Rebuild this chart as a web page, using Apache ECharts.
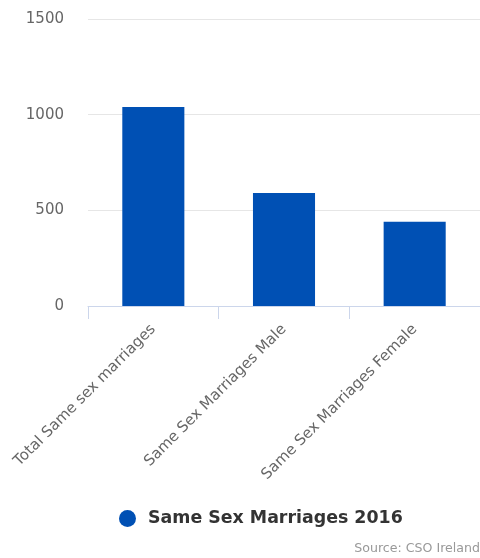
<!DOCTYPE html>
<html>
<head>
<meta charset="utf-8">
<script src="https://cdn.jsdelivr.net/npm/echarts@6/dist/echarts.min.js"></script>
<style>
html,body{margin:0;padding:0;background:#fff;}
#chart{width:480px;height:558px;}
</style>
</head>
<body>
<div id="chart"></div>
<script>
const categories = ['Total Same sex marriages', 'Same Sex Marriages Male', 'Same Sex Marriages Female'];
const seriesName = 'Same Sex Marriages 2016';
const values = [1040, 590, 440];
const yTicks = { min: 0, max: 1500, interval: 500 };
const sourceText = 'Source: CSO Ireland';

const font = 'DejaVu Sans';
const chart = echarts.init(document.getElementById('chart'));
chart.setOption({
  animation: false,
  title: {
    text: sourceText,
    right: 0,
    bottom: 3,
    padding: 0,
    textStyle: { fontFamily: font, fontSize: 12.6, fontWeight: 'normal', color: '#999' }
  },
  legend: {
    data: [seriesName],
    left: 119,
    top: 510,
    padding: 0,
    icon: 'circle',
    itemWidth: 17,
    itemHeight: 17,
    textStyle: { fontFamily: font, fontSize: 17.4, fontWeight: 'bold', color: '#333', padding: [0, 0, 0, 7] }
  },
  grid: { left: 88, right: 0, top: 19, bottom: 252, containLabel: false },
  xAxis: {
    type: 'category',
    data: categories,
    axisLine: { lineStyle: { color: '#ccd6eb' } },
    axisTick: { show: true, length: 13, lineStyle: { color: '#ccd6eb' } },
    axisLabel: { rotate: 45, margin: 21, fontFamily: font, fontSize: 15, color: '#666', interval: 0 }
  },
  yAxis: {
    type: 'value',
    min: yTicks.min,
    max: yTicks.max,
    interval: yTicks.interval,
    axisLine: { show: false },
    axisTick: { show: false },
    splitLine: { lineStyle: { color: '#e6e6e6' } },
    axisLabel: { margin: 24, fontFamily: font, fontSize: 15, color: '#666', formatter: v => String(v) }
  },
  series: [{
    name: seriesName,
    type: 'bar',
    data: values,
    barWidth: '47.5%',
    itemStyle: { color: '#0050b4' }
  }]
});
</script>
</body>
</html>
